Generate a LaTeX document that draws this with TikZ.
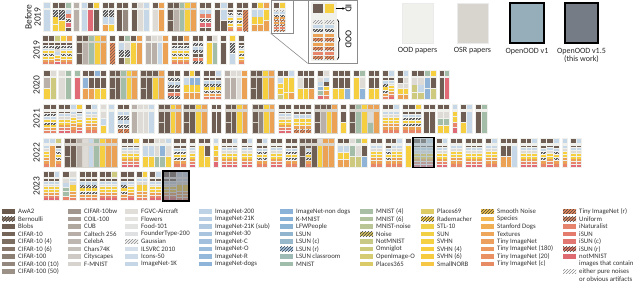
\documentclass[tikz,border=0pt]{standalone}
\usepackage{fontspec}
\setmainfont{Carlito}
\usepackage{xcolor}
\usepackage{tikz}
\usetikzlibrary{arrows.meta, positioning, patterns, decorations.pathreplacing}

% dataset colours used in the paper cards
\definecolor{cd}{HTML}{6E5E53}
\definecolor{cm}{HTML}{968A80}
\definecolor{cg}{HTML}{B9B1A9}
\definecolor{cl}{HTML}{DEDBD6}
\definecolor{cc}{HTML}{C6D7E7}
\definecolor{cb}{HTML}{8FB4D8}
\definecolor{cs}{HTML}{A3BDA9}
\definecolor{co}{HTML}{CDC97E}
\definecolor{cy}{HTML}{F5CF3F}
\definecolor{cn}{HTML}{ECA255}
\definecolor{ca}{HTML}{E8866B}
\definecolor{cr}{HTML}{E06B76}
\definecolor{ch}{HTML}{505050}
\definecolor{ct}{HTML}{E8895A}
\definecolor{cw}{HTML}{F2F2F2}
\definecolor{oodbg}{HTML}{F0F0EC}
\definecolor{osrbg}{HTML}{D8D4CE}
\definecolor{v1c}{HTML}{96AEB9}
\definecolor{v15c}{HTML}{767C85}

% stacked OOD columns
\def\mixA{d,h,c,y,h,y,n,a}
\def\mixB{c,a,h,r,d}
\def\mixC{h,c,h,d,a,h}
\def\mixD{d,h,l,c,y,n,r}
\def\mixE{d,c,l,y,y,n,a,r}
\def\mixF{c,l,y,y,n,n,a}
\def\mixG{d,c,y,y,n,t}
\def\mixH{d,c,h,y,h,n,a}
\def\mixZ{w,c,h,n,t,n,t,a,t}

% one paper: x from #1 to #2, card style #3, ID squares #4, OOD columns #5
\newcommand{\papercard}[5]{%
  \fill[#3] (#1,\rowtop) rectangle (#2,\rowtop+30);
  \foreach \hc [count=\i] in {#4} {\xdef\ncol{\i}}
  \pgfmathsetmacro\pitch{(#2-#1-1)/\ncol}
  \foreach \hc [count=\i] in {#4} {
    \fill[cell=\hc] ({#1+0.5+(\i-1)*\pitch+0.5},\rowtop+1.2) rectangle ({#1+0.5+\i*\pitch-0.5},\rowtop+5.8);
  }
  \foreach \col [count=\i] in {#5} {
    \edef\blocks{\col}
    \foreach \bk [count=\j] in \blocks {\xdef\nblk{\j}}
    \pgfmathsetmacro\bh{(21.3-(\nblk-1)*0.8)/\nblk}
    \foreach \bk [count=\j] in \blocks {
      \fill[cell=\bk] ({#1+0.5+(\i-1)*\pitch+0.5},{\rowtop+8+(\j-1)*(\bh+0.8)}) rectangle ({#1+0.5+\i*\pitch-0.5},{\rowtop+8+(\j-1)*(\bh+0.8)+\bh});
    }
  }
}

% one legend column at x=#2
\newcommand{\legcol}[3]{%
  \foreach \lab/\hx/\pat [count=\i] in {#3} {
    \pgfmathsetmacro\ly{211.5+(\i-1)*7.5}
    \ifnum\pat<9
      \definecolor{lgc}{HTML}{\hx}
      \fill[lgc] (#2,\ly-2.1) rectangle (#2+13,\ly+2.1);
    \fi
    \ifnum\pat=1 \fill[pattern=north east lines, pattern color=black!75] (#2,\ly-2.1) rectangle (#2+13,\ly+2.1); \fi
    \ifnum\pat=2 \fill[pattern=north east lines, pattern color=black!45] (#2,\ly-2.1) rectangle (#2+13,\ly+2.1); \fi
    \ifnum\pat=3 \fill[pattern=north east lines, pattern color=cb!40!black] (#2,\ly-2.1) rectangle (#2+13,\ly+2.1); \fi
    \node[legtext] (#1-\i) at (#2+15.5,\ly) {\lab};
  }
}

\begin{document}
\begin{tikzpicture}[
    x=1pt, y=-1pt,
    cell/.style={fill=c#1, hat#1/.try},
    hath/.style={postaction={pattern=north east lines, pattern color=white}},
    hatt/.style={postaction={pattern=north east lines, pattern color=cd}},
    hatw/.style={postaction={pattern=north east lines, pattern color=black!45}},
    oodcard/.style={fill=oodbg},
    osrcard/.style={fill=osrbg},
    v1tint/.style={fill=v1c, opacity=0.55},
    v15tint/.style={fill=v15c, opacity=0.6},
    hlframe/.style={draw=black, line width=1.3pt},
    yearlab/.style={rotate=90, font=\fontsize{9.5}{9}\selectfont, text=black!85, inner sep=0pt},
    zoomframe/.style={draw=black!45, line width=0.6pt, inner sep=0pt},
    zoomline/.style={draw=black!45, line width=0.6pt},
    zoomlab/.style={rotate=-90, font=\fontsize{9}{9}\selectfont, inner sep=0.5pt},
    keybox/.style={minimum height=40, inner sep=0pt},
    keylab/.style={font=\fontsize{8}{8.5}\selectfont, text=black!85, align=center, inner sep=1pt},
    legtext/.style={font=\fontsize{6.8}{7}\selectfont, text=black!80, inner sep=0.5pt, anchor=west},
]
\useasboundingbox (0,0) rectangle (640,282);

% year labels
\node[yearlab, align=center] (lbefore) at (33,17) {Before\\2019};
\node[yearlab] (l2019) at (36.5,50) {2019};
\node[yearlab] (l2020) at (36.5,85) {2020};
\node[yearlab] (l2021) at (36.5,118.5) {2021};
\node[yearlab] (l2022) at (36.5,152.5) {2022};
\node[yearlab] (l2023) at (36.5,186) {2023};

% Before 2019
\def\rowtop{2}
\papercard{43}{51}{oodcard}{c}{{c}}
\papercard{52}{72}{oodcard}{d,d,s}{{h,y,y},{h,y},{\mixB}}
\papercard{73}{80}{oodcard}{g}{{g}}
\papercard{81}{100}{oodcard}{c,d,y}{{c},{r},{d}}
\papercard{102}{115}{oodcard}{d,d}{{h,c,n},{h,c,y}}
\papercard{116}{129}{oodcard}{d,d}{{d},{m}}
\papercard{131}{150}{oodcard}{d,l,c}{{d},{l},{c}}
\papercard{152}{165}{oodcard}{d,n}{{l},{n}}
\papercard{167}{197}{osrcard}{d,d,s,y,n}{{d,d},{g},{s},{y},{n}}
\papercard{199}{212}{oodcard}{d,d}{{\mixB},{\mixB}}
\papercard{214}{234}{oodcard}{d,c,d}{{d},{c,d},{\mixA}}
\papercard{236}{249}{oodcard}{d,d}{{\mixA},{t}}
\papercard{251}{270}{oodcard}{d,y,n}{{c,y,n},{c,y,n},{y,n}}
\papercard{273}{286}{oodcard}{d,y}{{\mixZ},{\mixZ}}

% 2019
\def\rowtop{35}
\papercard{42}{73}{oodcard}{d,d,o,y,n}{{\mixA},{\mixA},{\mixD},{\mixA},{\mixA}}
\papercard{76}{107}{osrcard}{d,d,s,y,n}{{d,d},{g},{s},{y},{n}}
\papercard{109}{116}{oodcard}{d}{{t}}
\papercard{118}{143}{oodcard}{d,s,d,n}{{c,h,d},{l,h,o},{y},{n}}
\papercard{145}{169}{oodcard}{g,l,l,n}{{g},{g},{c},{n}}
\papercard{171}{190}{oodcard}{d,d,n}{{\mixA},{\mixA},{\mixA}}
\papercard{192}{204}{oodcard}{d,d}{{\mixC},{\mixC}}
\papercard{206}{218}{oodcard}{d,l}{{y},{s}}
\papercard{220}{227}{oodcard}{d}{{d}}
\papercard{229}{236}{oodcard}{y}{{h,c}}
\papercard{238}{245}{oodcard}{d}{{\mixA}}

% 2020
\def\rowtop{70}
\papercard{43}{57}{oodcard}{d,l}{{g,y},{o}}
\papercard{58}{72}{oodcard}{l,s}{{l},{s}}
\papercard{74}{81}{oodcard}{s}{{r}}
\papercard{82}{107}{oodcard}{d,d,b,d}{{b,n},{d,n},{d,y},{d,y}}
\papercard{109}{138}{osrcard}{d,d,s,y,n}{{d,d},{d},{s},{y},{n}}
\papercard{140}{165}{osrcard}{d,d,d,n}{{d,d},{d},{y},{n}}
\papercard{167}{181}{oodcard}{d,d}{{\mixC},{\mixC}}
\papercard{183}{201}{oodcard}{d,y,d}{{c,y,n},{b,y,n},{b,y,n}}
\papercard{203}{222}{oodcard}{d,d,c}{{\mixH},{\mixH},{\mixH}}
\papercard{224}{248}{oodcard}{g,l,l,n}{{g},{g},{l},{n}}
\papercard{250}{275}{osrcard}{d,d,y,n}{{d,d},{d},{y},{n}}
\papercard{277}{295}{oodcard}{d,d,c}{{c,y,y,o},{y,y,y},{y,y,n}}
\papercard{297}{315}{oodcard}{d,d,d}{{l,y},{d,y},{d,n}}
\papercard{317}{330}{oodcard}{d,l}{{l,c,b,s,r},{c,d,y,n,a}}
\papercard{332}{351}{oodcard}{d,d,d}{{d,y},{d,y},{d,b}}
\papercard{353}{366}{oodcard}{d,s}{{y},{l,b}}
\papercard{368}{380}{oodcard}{d,d}{{d,y},{d,y}}
\papercard{382}{395}{oodcard}{d,c}{{\mixH},{\mixE}}
\papercard{397}{409}{oodcard}{d,c}{{d,l,y,n},{l,l,y,n}}
\papercard{411}{437}{oodcard}{d,d,s,y}{{l,o,o},{l,c,o},{b,b},{d,o}}
\papercard{439}{450}{oodcard}{d,s}{{d},{r}}

% 2021
\def\rowtop{103.5}
\papercard{43}{57}{oodcard}{d,d}{{\mixA},{\mixA}}
\papercard{58}{83}{oodcard}{d,d,c,y}{{\mixE},{\mixE},{\mixF},{\mixE}}
\papercard{85}{98}{oodcard}{d,c}{{\mixF},{\mixF}}
\papercard{100}{107}{oodcard}{l}{{l,c,y}}
\papercard{108}{115}{oodcard}{c}{{c}}
\papercard{117}{130}{oodcard}{d,d}{{c,h,c,h,t},{c,h,c,h,t}}
\papercard{131}{155}{oodcard}{g,l,l,c}{{g},{l},{l},{c}}
\papercard{158}{182}{osrcard}{d,d,y,n}{{d,d},{d},{y},{n}}
\papercard{183}{208}{osrcard}{d,d,y,n}{{d,d},{d},{y},{n}}
\papercard{211}{222}{oodcard}{d,d}{{d},{d}}
\papercard{225}{248}{osrcard}{d,d,y,n}{{d,d},{d},{y},{n}}
\papercard{252}{275}{osrcard}{d,d,y,n}{{d,d},{m},{y},{n}}
\papercard{278}{292}{oodcard}{d,d}{{\mixE},{\mixE}}
\papercard{293}{312}{oodcard}{d,d,d}{{\mixG},{\mixG},{\mixG}}
\papercard{314}{338}{osrcard}{d,d,d,n}{{d,d},{g},{y},{n}}
\papercard{340}{347}{oodcard}{d}{{d,y}}
\papercard{349}{380}{osrcard}{d,s,y,n,n}{{d,d},{s},{y},{l,s},{n}}
\papercard{382}{400}{oodcard}{d,d,c}{{\mixF},{\mixF},{\mixF}}
\papercard{402}{422}{oodcard}{d,d,y}{{\mixH},{\mixH},{\mixH}}
\papercard{423}{436}{oodcard}{d,d}{{d},{d}}
\papercard{437}{450}{oodcard}{d,d}{{l,s,y},{l,s,y}}
\papercard{452}{458}{oodcard}{c}{{y,y,a,r}}
\papercard{460}{473}{oodcard}{d,c}{{d,y},{c}}
\papercard{475}{488}{oodcard}{d,s}{{d},{s}}

% 2022
\def\rowtop{137.5}
\papercard{43}{62}{oodcard}{c,c,o}{{\mixF},{n},{\mixH}}
\papercard{64}{118}{osrcard}{d,d,g,l,c,s,y,n,n}{{d,d},{d},{g},{l},{c},{s},{y},{n},{n}}
\papercard{121}{140}{oodcard}{d,d,y}{{\mixE},{\mixE},{\mixE}}
\papercard{142}{172}{oodcard}{d,d,l,l,c}{{c,y},{c,y},{l,s},{b,s},{l,y}}
\papercard{173}{187}{oodcard}{d,d}{{\mixH},{\mixH}}
\papercard{189}{196}{oodcard}{d}{{\mixE}}
\papercard{198}{211}{oodcard}{d,d}{{y},{d,y}}
\papercard{213}{219}{oodcard}{c}{{y,y,n,r}}
\papercard{221}{238}{oodcard}{d,d,c}{{\mixE},{\mixE},{\mixE}}
\papercard{241}{253}{oodcard}{d,c}{{\mixE},{\mixE}}
\papercard{256}{268}{oodcard}{d,c}{{\mixH},{\mixH}}
\papercard{270}{283}{oodcard}{d,d}{{\mixE},{\mixE}}
\papercard{285}{298}{oodcard}{d,d}{{\mixH},{\mixH}}
\papercard{299}{335}{osrcard}{d,d,d,l,n,n}{{d,d},{\mixH},{d},{y},{n},{n}}
\papercard{337}{368}{oodcard}{d,d,l,s,y}{{c,y,n},{c,y,n},{s,o},{l,o},{d,b}}
\papercard{370}{383}{oodcard}{d,d}{{\mixF},{\mixF}}
\papercard{385}{403}{oodcard}{d,d,c}{{\mixH},{\mixF},{\mixF}}
\papercard{405}{412}{oodcard}{d}{{y}}
\papercard{413}{434}{oodcard}{d,d,c}{{\mixE},{\mixE},{\mixE}}
\fill[v1tint] (413,\rowtop) rectangle (434,\rowtop+30);
\draw[hlframe] (413,\rowtop) rectangle (434,\rowtop+30);
\papercard{436}{448}{oodcard}{d,c}{{\mixE},{\mixE}}
\papercard{450}{463}{oodcard}{d,d}{{\mixF},{\mixF}}
\papercard{465}{483}{oodcard}{d,d,d}{{\mixE},{\mixE},{\mixE}}
\papercard{485}{498}{oodcard}{d,c}{{\mixF},{\mixF}}
\papercard{500}{518}{oodcard}{d,d,d}{{d,n},{d,n},{c}}
\papercard{520}{538}{oodcard}{d,d,c}{{\mixE},{\mixE},{\mixE}}
\papercard{540}{560}{oodcard}{d,d,c}{{\mixH},{\mixE},{\mixH}}
\papercard{562}{568}{oodcard}{c}{{\mixF}}
\papercard{570}{582}{oodcard}{d,c}{{\mixE},{\mixE}}

% 2023
\def\rowtop{171}
\papercard{43}{60}{oodcard}{d,d,c}{{\mixE},{\mixE},{\mixE}}
\papercard{62}{77}{oodcard}{d,l}{{l,c,s,s,a},{\mixF}}
\papercard{79}{98}{oodcard}{d,d,d}{{\mixH},{\mixH},{\mixH}}
\papercard{99}{118}{oodcard}{d,d,o}{{\mixE},{\mixE},{\mixE}}
\papercard{120}{135}{oodcard}{d,d}{{\mixH},{\mixE}}
\papercard{136}{148}{oodcard}{d,y}{{\mixF},{\mixF}}
\papercard{149}{162}{oodcard}{d,c}{{\mixE},{\mixE}}
\papercard{163}{189}{oodcard}{d,d,c,c}{{\mixE},{\mixE},{\mixF},{\mixF}}
\fill[v15tint] (163,\rowtop) rectangle (189,\rowtop+30);
\draw[hlframe] (163,\rowtop) rectangle (189,\rowtop+30);

% zoomed paper
\node[zoomframe, minimum width=22, minimum height=32.5] (srcbox) at (282,16.75) {};
\node[zoomframe, fill=white, minimum width=49, minimum height=62.5] (zoombox) at (332.5,31.75) {};
\draw[zoomline] (srcbox.north east) -- (zoombox.north west);
\draw[zoomline] (srcbox.south west) -- (zoombox.south west);
\fill[oodcard] (311,2) rectangle (337,61);
\fill[cell=d] (313,4) rectangle (322.5,13);
\fill[cell=y] (324.5,4) rectangle (334,13);
\foreach \bk [count=\j] in \mixZ {
  \fill[cell=\bk] (313,{15.5+\j*4.5}) rectangle (322.5,{18.7+\j*4.5});
  \fill[cell=\bk] (324.5,{15.5+\j*4.5}) rectangle (334,{18.7+\j*4.5});
}
\coordinate (idtail) at (335.5,8.5);
\node[zoomlab] (idlab) at (348.5,8.5) {ID};
\draw[-{Stealth[length=2.5pt,width=2.5pt]}, thick] (idtail) -- (idlab);
\coordinate (oodtop) at (337.5,19.5);
\coordinate (oodbot) at (337.5,59.5);
\draw[decorate, decoration={brace, amplitude=2.5pt}, thick] (oodtop) -- (oodbot);
\node[zoomlab] (oodlab) at (348.5,39.5) {OOD};

% key for paper types
\node[keybox, fill=oodbg, draw=black!8, minimum width=31] (oodkey) at (417.5,23) {};
\node[keybox, fill=osrbg, draw=black!8, minimum width=31] (osrkey) at (472.5,23) {};
\node[keybox, fill=v1c, draw=black, line width=1.3pt, minimum width=34] (v1key) at (527,23) {};
\node[keybox, fill=v15c, draw=black, line width=1.3pt, minimum width=33] (v15key) at (581.5,23) {};
\node[keylab, below=3pt of oodkey] (oodtxt) {OOD papers};
\node[keylab, below=3pt of osrkey] (osrtxt) {OSR papers};
\node[keylab, below=3pt of v1key] (v1txt) {OpenOOD v1};
\node[keylab, below=3pt of v15key] (v15txt) {OpenOOD v1.5\\(this work)};

% dataset legend
\legcol{la}{2}{AwA2/6B5A4E/0, Bernoulli/8C7868/1, Blobs/6F5F53/0, CIFAR-10/766659/0, CIFAR-10 (4)/7D6E62/0, CIFAR-10 (6)/857669/0, CIFAR-100/8C7F74/0, CIFAR-100 (10)/94887E/0, CIFAR-100 (50)/9C9187/0}
\legcol{lb}{68}{CIFAR-10bw/A2978E/0, COIL-100/A99F97/0, CUB/B0A79F/0, Caltech 256/B7AEA7/0, CelebA/BEB6B0/0, Chars74K/C6C0BA/0, Cityscapes/CEC9C4/0, F-MNIST/D7D3CF/0}
\legcol{lc}{125}{FGVC-Aircraft/E1DEDA/0, Flowers/E5E3E0/0, Food-101/E3E3E1/0, FounderType-200/DFE0E1/0, Gaussian/F4F4F4/2, ILSVRC 2010/D4DFE9/0, Icons-50/CDDAE7/0, ImageNet-1K/C5D6E6/0}
\legcol{ld}{199}{ImageNet-200/BED2E5/0, ImageNet-21K/B7CDE3/0, ImageNet-21K (sub)/B0C9E1/0, ImageNet-30/A9C4DF/0, ImageNet-C/A2C0DE/0, ImageNet-O/9BBCDC/0, ImageNet-R/94B8DA/0, ImageNet-dogs/8EB4D9/0}
\legcol{le}{280}{ImageNet-non dogs/8AB2D8/0, K-MNIST/86B0D6/0, LFWPeople/8BB3D3/0, LSUN/91B5CF/0, LSUN (c)/96B8CA/0, LSUN (r)/A6C3DC/3, LSUN classroom/9DBBB4/0, MNIST/A0BCAB/0}
\legcol{lf}{360}{MNIST (4)/A8BFA6/0, MNIST (6)/B0C29E/0, MNIST-noise/B9C596/0, Noise/D4C060/1, NotMNIST/C7C984/0, Omniglot/CDCA7C/0, OpenImage-O/D5CB72/0, Places365/DBCB68/0}
\legcol{lg}{421}{Places69/DDCB66/0, Rademacher/F0C94A/1, STL-10/EFD04D/0, SUN/F2D046/0, SVHN/F5D040/0, SVHN (4)/F6CE3F/0, SVHN (6)/F6CB40/0, SmallNORB/F5C744/0}
\legcol{lh}{481}{Smooth Noise/EFC04A/1, Species/F2B951/0, Stanford Dogs/F0AF55/0, Textures/EEA75A/0, Tiny ImageNet/ED9F5E/0, Tiny ImageNet (180)/EB9861/0, Tiny ImageNet (20)/E99163/0, Tiny ImageNet (c)/E78B64/0}
\legcol{li}{563}{Tiny ImageNet (r)/E78A60/1, Uniform/D98A66/1, iNaturalist/E6836C/0, iSUN/E47C6E/0, iSUN (c)/E27670/0, iSUN (r)/E07868/1, notMNIST/DF6B72/0, images that contain/FFFFFF/9, either pure noises/FFFFFF/2, or obvious artifacts/FFFFFF/9}

\end{tikzpicture}
\end{document}
